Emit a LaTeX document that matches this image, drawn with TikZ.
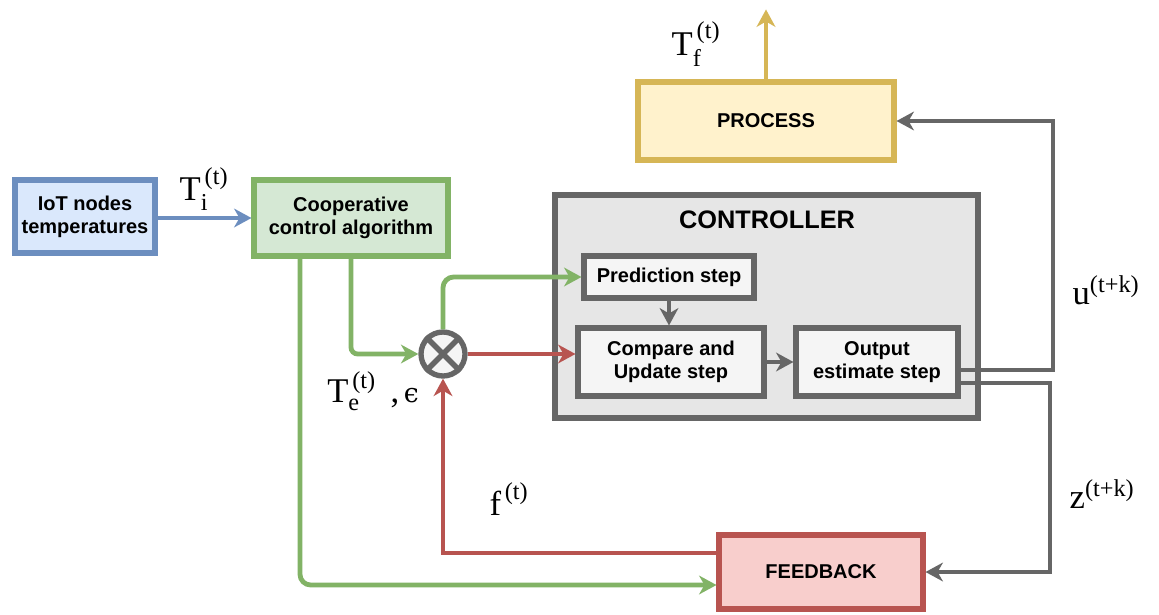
\documentclass[tikz,border=0pt]{standalone}
\usepackage{fontspec}
\usepackage{amsmath}
\setmainfont{Liberation Serif}
\newfontfamily\lab{Liberation Sans}
\newfontfamily\dvs{DejaVu Serif}
\usetikzlibrary{arrows.meta,calc}
\definecolor{bluD}{HTML}{6C8EBF}\definecolor{bluF}{HTML}{DAE8FC}
\definecolor{grnD}{HTML}{82B366}\definecolor{grnF}{HTML}{D5E8D4}
\definecolor{golD}{HTML}{D6B656}\definecolor{golF}{HTML}{FFF2CC}
\definecolor{redD}{HTML}{B85450}\definecolor{redF}{HTML}{F8CECC}
\definecolor{gryD}{HTML}{666666}\definecolor{gryF}{HTML}{E6E6E6}\definecolor{gryL}{HTML}{F5F5F5}
\begin{document}
\begin{tikzpicture}[x=0.75pt,y=-0.75pt,
  box/.style={draw, line width=3.8pt, font=\lab\bfseries\fontsize{15}{17.5}\selectfont, align=center, inner sep=0pt},
  arr/.style={line width=3.6pt, -{Stealth[length=13pt,width=14pt,inset=4pt]}},
  lbl/.style={font=\fontsize{26}{30}\selectfont, inner sep=0pt}]
\useasboundingbox (0,0) rectangle (1159,614);
\fill[white] (0,0) rectangle (1159,614);
% boxes
\node[box, draw=bluD, fill=bluF, minimum width=105pt, minimum height=54.75pt] (iot) at (85,216.5) {IoT nodes\\temperatures};
\node[box, draw=grnD, fill=grnF, minimum width=145.5pt, minimum height=57pt] (coop) at (351,218) {Cooperative\\control algorithm};
\node[box, draw=golD, fill=golF, minimum width=192pt, minimum height=58.5pt] (proc) at (766,121) {PROCESS};
\node[box, draw=gryD, fill=gryF, minimum width=317.25pt, minimum height=167.25pt] (ctrl) at (766.5,306.5) {};
\node[font=\lab\bfseries\fontsize{19}{21}\selectfont] (ctl) at (767,220) {CONTROLLER};
\node[box, draw=gryD, fill=gryL, minimum width=127.5pt, minimum height=31.5pt] (pred) at (669,277) {Prediction step};
\node[box, draw=gryD, fill=gryL, minimum width=139.5pt, minimum height=51pt] (cmp) at (671,362) {Compare and\\Update step};
\node[box, draw=gryD, fill=gryL, minimum width=121.5pt, minimum height=51pt] (out) at (877,362) {Output\\estimate step};
\node[box, draw=redD, fill=redF, minimum width=153pt, minimum height=55.5pt] (fb) at (821,572) {FEEDBACK};
\node[circle, draw=gryD, fill=gryL, line width=4pt, minimum size=33pt, inner sep=0pt] (X) at (443,354) {};
\draw[gryD, line width=4pt] (X.north west) -- (X.south east) (X.north east) -- (X.south west);
% coordinates
\coordinate (ptop) at ($(proc.north)+(0,-70)$);
\coordinate (uX) at (1053,0);
\coordinate (zX) at (1050,0);
\coordinate (o1) at ($(out.east)+(0,8)$);
\coordinate (o2) at ($(out.east)+(0,21)$);
\coordinate (g1) at ($(coop.south)+(-51,0)$);
\coordinate (fbg) at ($(fb.west)+(0,13)$);
\coordinate (fbr) at ($(fb.west)+(0,-19)$);
% connectors
\draw[arr, bluD] (iot.east |- coop.west) -- (coop.west);
\draw[arr, grnD, rounded corners=5pt] (coop.south) |- (X.west);
\draw[arr, grnD, rounded corners=8pt] (g1) |- (fbg);
\draw[arr, grnD, rounded corners=8pt] (X.north) |- (pred.west);
\draw[arr, redD] (X.east) -- (X.east -| cmp.west);
\draw[arr, redD] (fbr) -| (X.south);
\draw[arr, gryD] (pred.south) -- (pred.south |- cmp.north);
\draw[arr, gryD] (cmp.east) -- (out.west);
\draw[arr, gryD] (o1) -- (o1 -| uX) |- (proc.east);
\draw[arr, gryD] (o2) -- (o2 -| zX) |- (fb.east);
\draw[arr, golD] (proc.north) -- (ptop);
% labels
\node[lbl] (lti) at (204,189) {$\text{T}_{\text{i}}^{\,\text{(t)}}$};
\node[lbl] (ltf) at (696,44) {$\text{T}_{\text{f}}^{\,\text{(t)}}$};
\node[lbl] (lte) at (373,391) {$\text{T}_{\text{e}}^{\,\text{(t)}}\;\,$,{\dvs\fontsize{20}{24}\selectfont\,ϵ}};
\node[lbl] (lf) at (509,499) {$\text{f}^{\,\text{(t)}}$};
\node[lbl] (lu) at (1106,290) {$\text{u}^{\text{(t+k)}}$};
\node[lbl] (lz) at (1102,494) {$\text{z}^{\text{(t+k)}}$};
\end{tikzpicture}
\end{document}
